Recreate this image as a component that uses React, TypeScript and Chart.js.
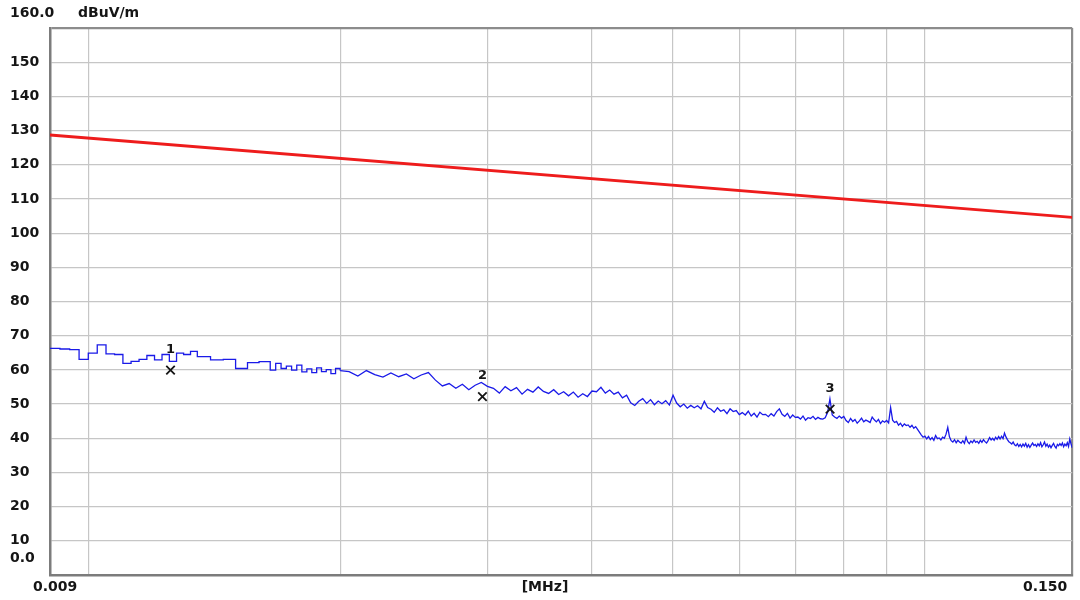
import React, { useEffect, useRef } from 'react';
import { Chart, registerables } from 'chart.js';

Chart.register(...registerables);

const FONT = '"DejaVu Sans", "Liberation Sans", sans-serif';

// Y axis
const yMin = 0;
const yMax = 160;
const yStep = 10;
const yTopLabel = '160.0';
const yBottomLabel = '0.0';
const yUnit = 'dBuV/m';

// X axis (MHz, logarithmic)
const xMin = 0.009;
const xMax = 0.15;
const xGridValues = [0.009, 0.01, 0.02, 0.03, 0.04, 0.05, 0.06, 0.07, 0.08, 0.09, 0.1, 0.15];
const xTickValues = [0.009, 0.15];
const xTickLabels = ['0.009', '0.150'];
const xUnit = '[MHz]';

// Limit line
const limitFreqs = [0.009, 0.15];
const limitValues = [128.7, 104.6];

// Measured trace, low band sweep (0.009 .. 0.020 MHz, 0.25 kHz steps)
const lowStart = 0.009;
const lowStep = 0.00025;
const lowValues = [
  66.3, 66.1, 65.9, 63.1, 64.9, 67.3, 64.7, 64.5, 61.9, 62.5,
  63.1, 64.2, 62.9, 64.5, 62.5, 64.9, 64.5, 65.4, 63.9, 63.9,
  62.9, 62.9, 63.1, 63.1, 60.4, 60.4, 62.1, 62.1, 62.4, 62.4,
  59.9, 61.9, 60.4, 61.1, 59.9, 61.4, 59.4, 60.3, 59.2, 60.6,
  59.5, 60.1, 58.9, 60.4, 59.8,
];

// Measured trace, high band sweep (0.0205 .. 0.150 MHz, 0.5 kHz steps)
const highStart = 0.0205;
const highStep = 0.0005;
const highValues = [
  59.5, 58.2, 59.8, 58.6, 57.9, 59.1, 58.0, 58.8, 57.4, 58.5,
  59.2, 57.0, 55.3, 56.0, 54.6, 55.8, 54.2, 55.5, 56.3, 55.2,
  54.6, 53.2, 55.1, 53.9, 54.8, 52.9, 54.3, 53.5, 55.0, 53.7,
  53.1, 54.2, 52.8, 53.6, 52.4, 53.5, 52.0, 53.0, 52.2, 53.8,
  53.6, 54.9, 53.2, 54.1, 52.9, 53.5, 51.8, 52.6, 50.4, 49.6,
  50.8, 51.6, 50.2, 51.3, 49.8, 50.9, 50.1, 51.0, 49.7, 52.6,
  50.3, 49.2, 50.0, 48.8, 49.6, 48.9, 49.5, 48.6, 50.8, 49.0,
  48.5, 47.6, 48.9, 47.9, 48.3, 47.2, 48.6, 47.8, 48.1, 46.9,
  47.5, 46.8, 47.9, 46.5, 47.3, 46.2, 47.6, 46.9, 47.0, 46.3,
  47.2, 46.5, 47.8, 48.6, 47.0, 46.4, 47.3, 45.9, 46.8, 46.1,
  46.2, 45.6, 46.5, 45.3, 46.0, 45.8, 46.4, 45.5, 46.1, 45.7,
  45.6, 46.0, 47.5, 51.5, 46.8, 46.2, 45.8, 46.5, 45.9, 46.4,
  45.2, 44.6, 45.8, 44.9, 45.5, 44.4, 45.1, 45.9, 44.8, 45.3,
  45.0, 44.6, 46.2, 45.4, 44.8, 45.5, 44.3, 45.1, 44.7, 45.2,
  44.5, 49.0, 45.3, 44.6, 44.9, 43.8, 44.4, 43.5, 44.2, 43.7,
  43.9, 43.2, 43.8, 42.9, 43.4, 42.6, 41.8, 41.0, 40.3, 40.6,
  39.8, 40.5, 39.6, 40.2, 39.4, 40.8, 39.9, 40.1, 39.5, 40.3,
  40.0, 41.2, 43.2, 40.4, 39.3, 38.9, 39.6, 38.7, 39.4, 38.9,
  38.6, 39.3, 38.5, 40.3, 39.0, 38.4, 39.2, 38.7, 39.5, 38.8,
  39.1, 38.5, 39.4, 38.8, 39.6, 39.0, 38.6, 39.3, 40.2, 39.5,
  40.0, 39.4, 40.3, 39.7, 40.5, 39.8, 40.6, 39.9, 41.5, 40.4,
  39.6, 39.0, 38.7, 38.3, 38.9, 38.1, 37.8, 38.4, 37.6, 38.2,
  37.5, 38.3, 37.7, 38.5, 37.4, 38.1, 37.3, 38.0, 38.6, 37.9,
  38.2, 37.6, 38.4, 37.8, 38.7, 37.5, 38.1, 38.9, 37.7, 38.3,
  37.4, 38.0, 37.2, 37.9, 38.5, 37.6, 37.1, 38.2, 37.8, 38.4,
  37.9, 38.6, 37.5, 38.3, 37.8, 38.7, 37.6, 39.8, 38.4, 37.2,
];

// Markers
const markerFreqs = [0.01254, 0.02959, 0.07703];
const markerValues = [59.9, 52.2, 48.5];
const markerLabels = ['1', '2', '3'];

const lowFreqs = lowValues.map((_, i) => +(lowStart + i * lowStep).toFixed(5));
const highFreqs = highValues.map((_, i) => +(highStart + i * highStep).toFixed(5));

const textPlugin = {
  id: 'emiTexts',
  afterDraw(chart: any) {
    const { ctx } = chart;
    const x = chart.scales.x;
    ctx.save();
    ctx.fillStyle = '#151515';
    ctx.font = `bold 14px ${FONT}`;
    ctx.textBaseline = 'middle';
    ctx.textAlign = 'left';
    ctx.fillText(yTopLabel, 10, 13);
    ctx.fillText(yUnit, 78, 13);
    ctx.fillText(yBottomLabel, 10, 558);
    xTickValues.forEach((v, i) => {
      const px = x.getPixelForValue(v);
      if (i === 0) {
        ctx.textAlign = 'left';
        ctx.fillText(xTickLabels[i], px - 17, 587);
      } else {
        ctx.textAlign = 'right';
        ctx.fillText(xTickLabels[i], px - 5, 587);
      }
    });
    ctx.textAlign = 'center';
    ctx.fillText(xUnit, 545, 587);
    const meta = chart.getDatasetMeta(3);
    ctx.font = `bold 13px ${FONT}`;
    meta.data.forEach((pt: any, i: number) => {
      ctx.fillText(markerLabels[i], pt.x, pt.y - 21);
    });
    ctx.restore();
  },
};

export default function App() {
  const ref = useRef<HTMLCanvasElement>(null);

  useEffect(() => {
    if (!ref.current) return;
    const chart = new Chart(ref.current, {
      type: 'line',
      data: {
        datasets: [
          {
            label: 'Limit',
            data: limitFreqs.map((f, i) => ({ x: f, y: limitValues[i] })),
            borderColor: '#ee1c1c',
            borderWidth: 2.8,
            pointRadius: 0,
            order: 3,
          },
          {
            label: 'Trace low',
            data: lowFreqs.map((f, i) => ({ x: f, y: lowValues[i] })),
            borderColor: '#1a1ae8',
            borderWidth: 1.3,
            pointRadius: 0,
            stepped: 'before',
            order: 2,
          },
          {
            label: 'Trace high',
            data: [
              { x: lowFreqs[lowFreqs.length - 1], y: lowValues[lowValues.length - 1] },
              ...highFreqs.map((f, i) => ({ x: f, y: highValues[i] })),
            ],
            borderColor: '#1a1ae8',
            borderWidth: 1.3,
            pointRadius: 0,
            tension: 0,
            order: 2,
          },
          {
            label: 'Markers',
            data: markerFreqs.map((f, i) => ({ x: f, y: markerValues[i] })),
            showLine: false,
            pointStyle: 'crossRot',
            pointRadius: 6,
            pointBorderColor: '#151515',
            pointBorderWidth: 1.8,
            borderColor: '#151515',
            order: 1,
          },
        ],
      },
      options: {
        animation: false,
        responsive: false,
        maintainAspectRatio: false,
        layout: { padding: { left: 10, top: 28, right: 4, bottom: 0 } },
        plugins: {
          legend: { display: false },
          tooltip: { enabled: false },
          title: { display: false },
        },
        scales: {
          x: {
            type: 'logarithmic',
            min: xMin,
            max: xMax,
            afterBuildTicks: (scale: any) => {
              scale.ticks = xGridValues.map((v) => ({ value: v }));
            },
            afterFit: (scale: any) => {
              scale.height = 25;
            },
            ticks: { display: false },
            grid: {
              drawTicks: false,
              color: (c: any) =>
                c.tick && c.tick.value === xMax ? '#8c8c8c' : c.tick && c.tick.value === xMin ? 'rgba(0,0,0,0)' : '#c6c6c6',
              lineWidth: (c: any) => (c.tick && c.tick.value === xMax ? 2.2 : 1.2),
            },
            border: { display: true, color: '#7c7c7c', width: 2.5 },
          },
          y: {
            type: 'linear',
            min: yMin,
            max: yMax,
            afterFit: (scale: any) => {
              scale.width = 40;
            },
            ticks: {
              stepSize: yStep,
              crossAlign: 'far',
              color: '#151515',
              font: { family: FONT, size: 14, weight: 'bold' },
              callback: (v: any) => (v === yMin || v === yMax ? '' : String(v)),
            },
            grid: {
              drawTicks: false,
              color: (c: any) =>
                c.tick && c.tick.value === yMax ? '#8c8c8c' : c.tick && c.tick.value === yMin ? 'rgba(0,0,0,0)' : '#c6c6c6',
              lineWidth: (c: any) => (c.tick && c.tick.value === yMax ? 2.2 : 1.2),
            },
            border: { display: true, color: '#7c7c7c', width: 2.5 },
          },
        },
      },
      plugins: [textPlugin],
    } as any);
    return () => chart.destroy();
  }, []);

  return (
    <div style={{ position: 'fixed', left: 0, top: 0, width: 1080, height: 600, background: '#ffffff' }}>
      <canvas ref={ref} width={1080} height={600} style={{ width: 1080, height: 600, display: 'block' }} />
    </div>
  );
}
